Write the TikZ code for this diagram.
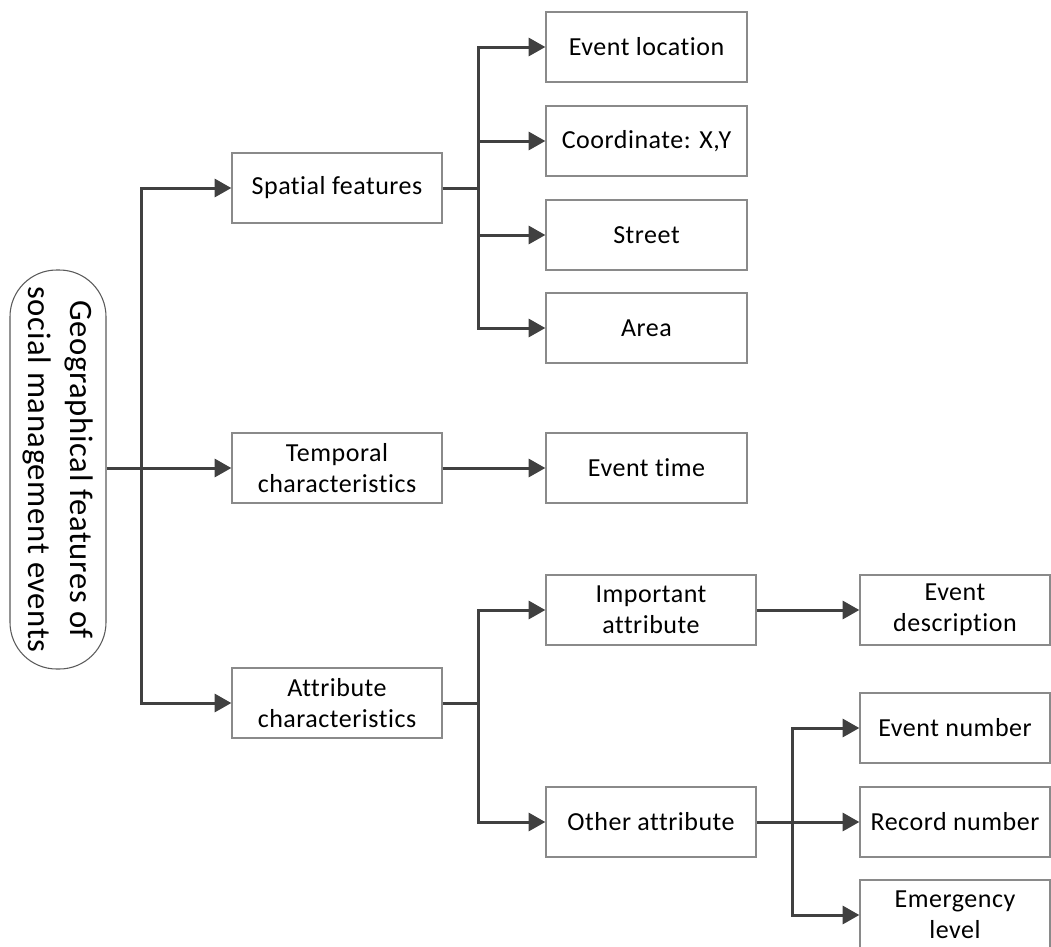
\documentclass[tikz,border=0pt]{standalone}
\usepackage{fontspec}
\setmainfont{Carlito}[Ligatures=NoCommon, LetterSpace=2]
\usetikzlibrary{arrows.meta}
\definecolor{linkgray}{HTML}{404040}
\definecolor{boxgray}{HTML}{8A8A8A}
\definecolor{rootgray}{HTML}{5A5A5A}
\tikzset{
  box/.style={draw=boxgray, line width=1pt, fill=white, align=center,
    inner sep=0pt, font=\fontsize{19.5}{23.4}\selectfont},
  lvlone/.style={box, minimum width=157.5pt, minimum height=52.5pt},
  lvltwo/.style={box, minimum width=150.75pt, minimum height=52.5pt},
  lvltwob/.style={box, minimum width=157.5pt, minimum height=52.5pt},
  lvlthree/.style={box, minimum width=142.5pt, minimum height=52.5pt},
  rootbox/.style={draw=rootgray, line width=0.8pt, rounded corners=35pt,
    rotate=-90, align=center, inner sep=0pt,
    minimum width=299.25pt, minimum height=72pt,
    font=\fontsize{24.5}{32}\selectfont},
  link/.style={draw=linkgray, line width=2.25pt},
  arr/.style={link, -{Triangle[length=12.5pt, width=13.5pt]}}
}
\begin{document}
\begin{tikzpicture}[x=0.75pt, y=-0.75pt]
\useasboundingbox (0,0) rectangle (1051,947);
\clip (0,0) rectangle (1051,947);

% root
\node[rootbox] (root) at (58,469.5) {Geographical features of\\social management events};

% first level
\node[lvlone] (spatial) at (337,188) {Spatial features};
\node[lvlone] (temporal) at (337,468) {Temporal\\characteristics};
\node[lvlone] (attr) at (337,703) {Attribute\\characteristics};

% spatial children
\node[lvltwo] (loc) at (646.5,47) {Event location};
\node[lvltwo] (coord) at (646.5,141) {Coordinate: X,Y};
\node[lvltwo] (street) at (646.5,235) {Street};
\node[lvltwo] (area) at (646.5,328) {Area};

% temporal child
\node[lvltwo] (etime) at (646.5,468) {Event time};

% attribute children
\node[lvltwob] (imp) at (651,610) {Important\\attribute};
\node[lvltwob] (other) at (651,822) {Other attribute};

% third level
\node[lvlthree] (desc) at (955,610) {Event\\description};
\node[lvlthree] (enum) at (955,728) {Event number};
\node[lvlthree] (rec) at (955,822) {Record number};
\node[lvlthree] (emerg) at (955,915) {Emergency\\level};

% trunk from the root
\coordinate (trunk) at (141,468);
\draw[arr] (root.north |- temporal.west) -- (temporal.west);
\draw[arr] (trunk) |- (spatial.west);
\draw[arr] (trunk) |- (attr.west);

% spatial branch
\coordinate (sp) at (478,188);
\draw[link] (spatial.east) -- (sp);
\draw[arr] (sp) |- (loc.west);
\draw[arr] (sp) |- (area.west);
\draw[arr] (sp |- coord.west) -- (coord.west);
\draw[arr] (sp |- street.west) -- (street.west);

% temporal branch
\draw[arr] (temporal.east) -- (etime.west);

% attribute branch
\coordinate (at) at (478,703);
\draw[link] (attr.east) -- (at);
\draw[arr] (at) |- (imp.west);
\draw[arr] (at) |- (other.west);

% third level links
\draw[arr] (imp.east) -- (desc.west);
\coordinate (ot) at (792,822);
\draw[arr] (other.east) -- (rec.west);
\draw[arr] (ot) |- (enum.west);
\draw[arr] (ot) |- (emerg.west);
\end{tikzpicture}
\end{document}
